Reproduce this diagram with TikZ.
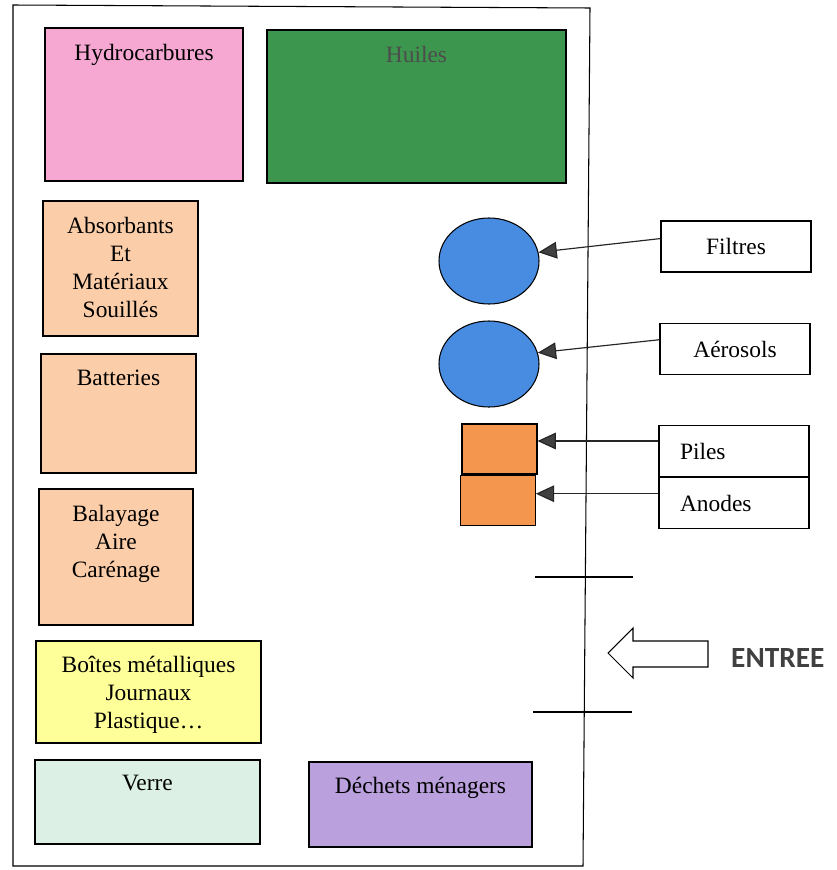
\documentclass[tikz,border=0pt]{standalone}
\usepackage{fontspec}
\setmainfont{Liberation Serif}
\newfontfamily\entreefont{Carlito}
\usetikzlibrary{positioning, arrows.meta, shapes}
\definecolor{hydropink}{RGB}{246,168,210}
\definecolor{oilgreen}{RGB}{60,150,78}
\definecolor{peach}{RGB}{251,205,168}
\definecolor{paleyellow}{RGB}{255,255,153}
\definecolor{glassmint}{RGB}{221,240,230}
\definecolor{lavender}{RGB}{186,160,220}
\definecolor{sprayblue}{RGB}{72,140,226}
\definecolor{cellorange}{RGB}{245,150,78}
\definecolor{inkgrey}{RGB}{64,64,64}
\tikzstyle{bin} = [draw, line width=0.9pt, rectangle, inner sep=0pt]
\tikzstyle{binlabel} = [inner sep=0pt, align=center, font=\rmfamily\fontsize{20}{24}\selectfont]
\tikzstyle{tag} = [draw, line width=0.9pt, rectangle, minimum width=4.5cm, minimum height=1.53cm, font=\rmfamily\fontsize{20}{24}\selectfont]
\tikzstyle{feed} = [line width=1pt, draw=black!85, -{Triangle[length=0.55cm, width=0.5cm, fill=inkgrey]}]

\begin{document}
\begin{tikzpicture}[x=0.03cm, y=-0.03cm]
      \useasboundingbox (0,0) rectangle (836,870);
      % enclosure
      \draw[line width=0.9pt] (13,5) -- (590,8) -- (583,866) -- (13,866) -- cycle;
      % top row
      \node[bin, fill=hydropink, minimum width=5.94cm, minimum height=4.59cm] (hydro) at (144,104.5) {};
      \node[binlabel, below=0.5cm of hydro.north] (hydrotext) {Hydrocarbures};
      \node[bin, fill=oilgreen, minimum width=8.97cm, minimum height=4.59cm] (oil) at (416.5,106.5) {};
      \node[binlabel, text=black!70, below=0.5cm of oil.north] (oiltext) {Huiles};
      % left column
      \node[bin, fill=peach, minimum width=4.65cm, minimum height=4.05cm] (absorb) at (120.5,268.5) {};
      \node[binlabel, below=0.5cm of absorb.north] (absorbtext) {Absorbants\\Et\\Matériaux\\Souillés};
      \node[bin, fill=peach, minimum width=4.65cm, minimum height=3.57cm] (battery) at (118.5,413.5) {};
      \node[binlabel, below=0.5cm of battery.north] (batterytext) {Batteries};
      \node[bin, fill=peach, minimum width=4.62cm, minimum height=4.08cm] (sweep) at (116,557) {};
      \node[binlabel, below=0.5cm of sweep.north] (sweeptext) {Balayage\\Aire\\Carénage};
      \node[bin, fill=paleyellow, minimum width=6.75cm, minimum height=3.06cm] (recycle) at (148.5,692) {};
      \node[binlabel, below=0.45cm of recycle.north] (recycletext) {Boîtes métalliques\\Journaux\\Plastique\ldots};
      \node[bin, fill=glassmint, minimum width=6.75cm, minimum height=2.52cm] (glass) at (147.5,802) {};
      \node[binlabel, below=0.45cm of glass.north] (glasstext) {Verre};
      \node[bin, fill=lavender, minimum width=6.69cm, minimum height=2.55cm] (waste) at (420.5,804.5) {};
      \node[binlabel, below=0.45cm of waste.north] (wastetext) {Déchets ménagers};
      % small containers
      \node[bin, ellipse, fill=sprayblue, minimum width=3cm, minimum height=2.58cm] (filterbin) at (489,261) {};
      \node[bin, ellipse, fill=sprayblue, minimum width=3cm, minimum height=2.58cm] (spraybin) at (489,364) {};
      \node[bin, fill=cellorange, minimum width=2.25cm, minimum height=1.5cm] (cellbin) at (499.5,449) {};
      \node[bin, fill=cellorange, minimum width=2.25cm, minimum height=1.5cm, below=0pt of cellbin, xshift=-0.05cm] (anodebin) {};
      % tags
      \node[tag] (filters) at (736,246.5) {Filtres};
      \node[tag] (sprays) at (735,349) {Aérosols};
      \node[tag, text width=3.24cm, inner xsep=0.63cm, align=left] (cells) at (734,451) {Piles};
      \node[tag, text width=3.24cm, inner xsep=0.63cm, align=left, below=0pt of cells] (anodes) {Anodes};
      \draw[feed] (filters.174) -- (filterbin.10);
      \draw[feed] (sprays.173) -- (spraybin.13);
      \draw[feed] ([yshift=0.3cm]cells.west) -- ([yshift=0.3cm]cells.west -| cellbin.east);
      \draw[feed] ([yshift=0.28cm]anodes.west) -- ([yshift=0.28cm]anodes.west -| anodebin.east);
      % entrance
      \coordinate (gateA) at (535,577);
      \coordinate (gateB) at (633,577);
      \coordinate (gateC) at (533,712);
      \coordinate (gateD) at (632,712);
      \draw[line width=0.9pt] (gateA) -- (gateB);
      \draw[line width=0.9pt] (gateC) -- (gateD);
      \draw[line width=0.9pt, fill=white] (608,653) -- (633,628) -- (633,641) -- (708,641) -- (708,667) -- (633,667) -- (633,678) -- cycle;
      \node[font=\entreefont\bfseries\fontsize{25}{30}\selectfont, text=inkgrey, anchor=west, inner sep=0pt] (entree) at (731,658) {ENTREE};
    \end{tikzpicture}
\end{document}
